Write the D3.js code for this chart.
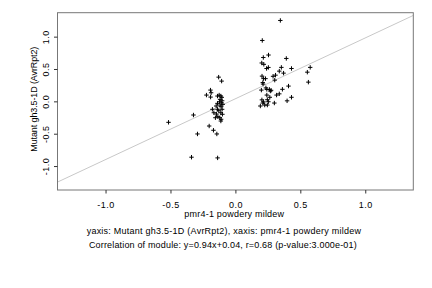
<!DOCTYPE html>
<html><head><meta charset="utf-8">
<script src="https://cdn.jsdelivr.net/npm/d3@7"></script>
<style>body{margin:0;background:#fff}svg{display:block}text{font-family:"Liberation Sans",Arial,Helvetica,sans-serif;fill:#000}</style>
</head><body><svg id="c" width="432" height="288"></svg>
<script>
const xVals = [-0.129,-0.106,-0.192,-0.187,-0.223,-0.191,-0.138,-0.125,-0.112,-0.105,-0.118,-0.102,-0.123,-0.108,-0.138,-0.097,-0.118,-0.148,-0.110,-0.177,-0.138,-0.102,-0.128,-0.166,-0.112,-0.146,-0.100,-0.135,-0.120,-0.154,-0.110,-0.112,-0.323,-0.515,-0.202,-0.169,-0.292,-0.143,-0.338,-0.137,
0.346,0.207,0.215,0.255,0.392,0.203,0.219,0.240,0.254,0.354,0.432,0.576,0.338,0.371,0.554,0.205,0.309,0.290,0.217,0.232,0.303,0.211,0.213,0.409,0.562,0.200,0.235,0.242,0.262,0.275,0.269,0.362,0.242,0.265,0.317,0.338,0.432,0.204,0.217,0.211,0.246,0.254,0.300,0.398,0.192,0.226,0.246];
const yVals = [0.374,0.313,0.174,0.133,0.097,0.066,0.082,0.097,0.082,0.062,0.031,0.009,-0.006,-0.022,-0.031,-0.046,-0.057,-0.072,-0.083,-0.123,-0.123,-0.123,-0.145,-0.176,-0.176,-0.196,-0.200,-0.237,-0.253,-0.253,-0.277,-0.304,-0.211,-0.324,-0.381,-0.447,-0.504,-0.504,-0.863,-0.874,
1.250,0.941,0.678,0.716,0.663,0.593,0.572,0.508,0.524,0.525,0.508,0.525,0.467,0.436,0.451,0.390,0.405,0.387,0.351,0.351,0.328,0.290,0.267,0.236,0.297,0.174,0.208,0.185,0.185,0.171,0.159,0.186,0.097,0.063,0.097,0.116,0.063,0.023,-0.008,-0.026,0.025,-0.006,-0.026,0.008,-0.072,-0.057,-0.057];
const xTicks = [-1.0,-0.5,0.0,0.5,1.0];
const yTicks = [-1.0,-0.5,0.0,0.5,1.0];
const slope = 0.94, intercept = 0.04;
const domainX = [-1.37,1.37], domainY = [-1.37,1.37];
const xLabel = "pmr4-1 powdery mildew";
const yLabel = "Mutant gh3.5-1D (AvrRpt2)";
const sub1 = "yaxis: Mutant gh3.5-1D (AvrRpt2), xaxis: pmr4-1 powdery mildew";
const sub2 = "Correlation of module: y=0.94x+0.04, r=0.68 (p-value:3.000e-01)";

const svg = d3.select("#c");
const L=57.5, R=413.3, T=12.7, B=190;
const x = d3.scaleLinear().domain(domainX).range([L,R]);
const y = d3.scaleLinear().domain(domainY).range([B,T]);
const fs = 9;
const FF = '"Liberation Sans",Arial,sans-serif';

svg.append("clipPath").attr("id","cp").append("rect").attr("x",L).attr("y",T).attr("width",R-L).attr("height",B-T);

svg.append("line").attr("clip-path","url(#cp)")
  .attr("x1",x(domainX[0])).attr("y1",y(slope*domainX[0]+intercept))
  .attr("x2",x(domainX[1])).attr("y2",y(slope*domainX[1]+intercept))
  .attr("stroke","#c8c8c8").attr("stroke-width",1);

const pts = xVals.map((v,i)=>[v,yVals[i]]);
const s = 2.2;
svg.append("g").selectAll("path").data(pts).join("path")
  .attr("d",d=>`M${x(d[0])-s},${y(d[1])}h${2*s}M${x(d[0])},${y(d[1])-s}v${2*s}`)
  .attr("stroke","#000").attr("stroke-width",1).attr("fill","none");

svg.append("rect").attr("x",L).attr("y",T).attr("width",R-L).attr("height",B-T)
  .attr("fill","none").attr("stroke","#777").attr("stroke-width",1);

const gx = svg.append("g").attr("transform",`translate(0,${B})`)
  .call(d3.axisBottom(x).tickValues(xTicks).tickSize(3.5).tickFormat(d=>d.toFixed(1)));
gx.select(".domain").remove();
gx.selectAll("line").attr("stroke","#333");
gx.selectAll("text").attr("y",17.5).attr("dy",0).style("font-size",fs+"px").style("font-family",FF).style("letter-spacing","0.5px");

const gy = svg.append("g").attr("transform",`translate(${L},0)`)
  .call(d3.axisLeft(y).tickValues(yTicks).tickSize(3.5).tickFormat(d=>d.toFixed(1)));
gy.select(".domain").remove();
gy.selectAll("line").attr("stroke","#333");
gy.selectAll("text").attr("transform","rotate(-90)").attr("x",0).attr("y",-8.2).attr("dy",0)
  .attr("text-anchor","middle").style("font-size",fs+"px").style("font-family",FF).style("letter-spacing","0.5px");

function label(sel, w){ return sel.style("font-size",fs+"px").attr("text-anchor","middle").attr("textLength",w).attr("lengthAdjust","spacing"); }
label(svg.append("text").attr("x",234.2).attr("y",216.5).text(xLabel), 99.7);
label(svg.append("text").attr("transform",`translate(37,99.2) rotate(-90)`).text(yLabel), 105);
label(svg.append("text").attr("x",223.8).attr("y",234).text(sub1), 274.3);
label(svg.append("text").attr("x",222.8).attr("y",247.5).text(sub2), 267.7);
</script></body></html>
